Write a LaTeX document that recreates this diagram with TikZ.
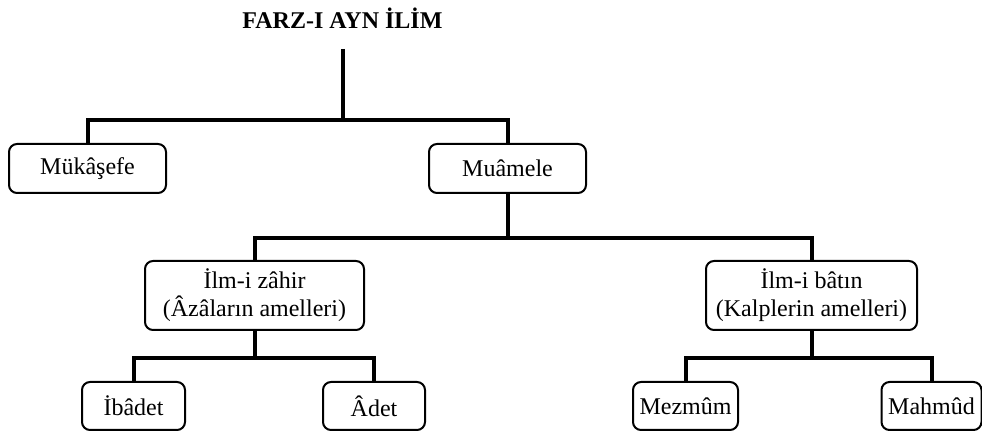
\documentclass[tikz,border=0pt]{standalone}
\usepackage{fontspec}
\setmainfont{Liberation Serif}
\usetikzlibrary{positioning}

\begin{document}
\begin{tikzpicture}[x=0.5pt, y=-0.5pt, line width=2pt]
    \tikzstyle{every node}=[font=\fontsize{12}{14}\selectfont]
    \tikzstyle{box}=[draw=black, line width=1pt, rounded corners=4pt, align=center, inner sep=0pt, minimum height=24.5pt]
    \tikzstyle{tall box}=[box, minimum height=34.5pt]
    \tikzstyle{leaf}=[box, minimum height=24pt]
    \tikzstyle{link}=[draw=black, line width=2pt]
    \useasboundingbox (0,0) rectangle (982,432);

    % Draw the title
    \node (title) at (342.5,18) {\textbf{FARZ-I AYN İLİM}};
    \coordinate (top) at (342.5,49);

    % Draw the first level
    \node[box, minimum width=78.5pt] (mukasefe) at (87.5,168.5) {Mükâşefe};
    \node[box, minimum width=78.5pt] (muamele) at (507.5,168.5) {Muâmele};

    % Draw the second level
    \node[tall box, minimum width=109.5pt] (zahir) at (254.5,295.5) {İlm-i zâhir\\(Âzâların amelleri)};
    \node[tall box, minimum width=105.5pt] (batin) at (811.5,295.5) {İlm-i bâtın\\(Kalplerin amelleri)};

    % Draw the leaves
    \node[leaf, minimum width=51.5pt] (ibadet) at (133.5,406) {İbâdet};
    \node[leaf, minimum width=51pt] (adet) at (374,406) {Âdet};
    \node[leaf, minimum width=52.5pt] (mezmum) at (685.5,406) {Mezmûm};
    \node[leaf, minimum width=50pt] (mahmud) at (931.5,406) {Mahmûd};

    % Connectors
    \draw[link] (top) -- ++(0,71) coordinate (fork-1) -| (mukasefe.north);
    \draw[link] (fork-1) -| (muamele.north);

    \draw[link] (muamele.south) -- ++(0,44) coordinate (fork-2) -| (zahir.north);
    \draw[link] (fork-2) -| (batin.north);

    \draw[link] (zahir.south) -- ++(0,27) coordinate (fork-3) -| (ibadet.north);
    \draw[link] (fork-3) -| (adet.north);

    \draw[link] (batin.south) -- ++(0,27) coordinate (fork-4) -| (mezmum.north);
    \draw[link] (fork-4) -| (mahmud.north);
\end{tikzpicture}
\end{document}
